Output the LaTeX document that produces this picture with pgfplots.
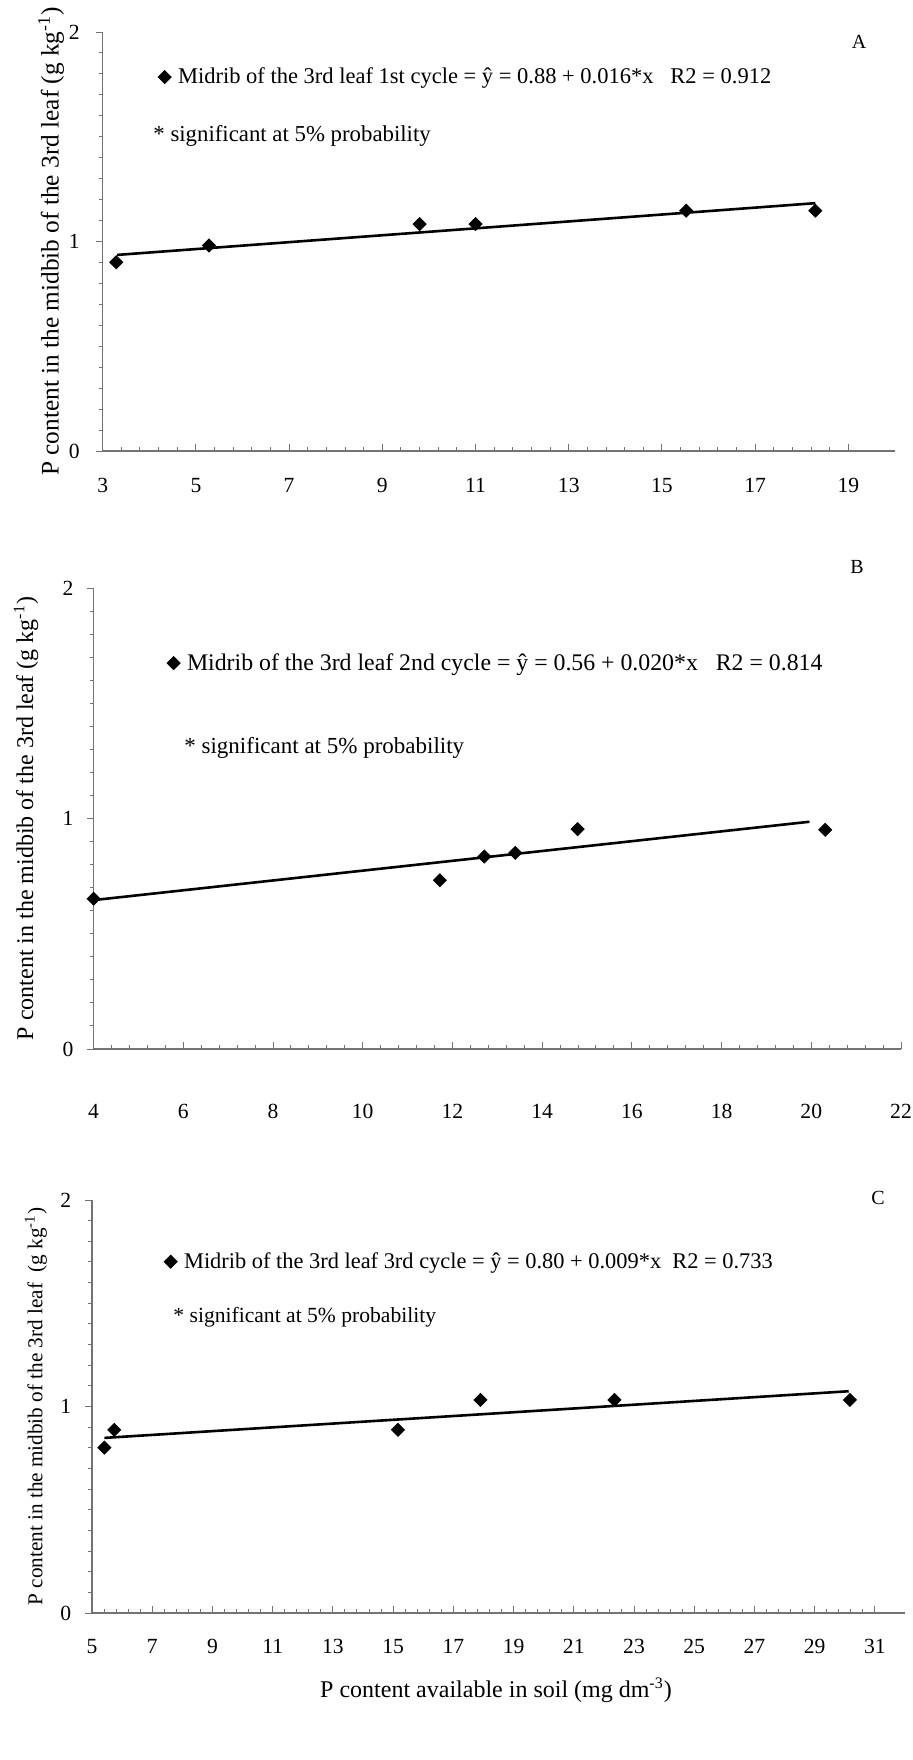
\documentclass[border=0pt]{standalone}
\usepackage{pgfplots}
\pgfplotsset{compat=1.18}
\usepackage{fontspec}
\setmainfont{Liberation Serif}
\newcommand{\fs}[1]{\fontsize{#1}{#1}\selectfont}
\pgfplotsset{
  panel/.style={
    scale only axis,
    clip=false,
    axis lines=left,
    axis line style={-, draw=black!55, line width=0.6pt},
    ymin=0, ymax=2,
    ytick={0,1,2},
    minor y tick num=9,
    minor x tick num=4,
    xtick align=inside,
    ytick align=outside,
    major tick length=3.5pt,
    minor tick length=2pt,
    tick style={draw=black!55, line width=0.5pt},
    /pgf/number format/assume math mode=true,
    ticklabel style={font=\fs{10.8}},
    legend style={draw=none, fill=none, anchor=west, inner sep=0pt,
      nodes={inner sep=1pt}},
  },
  dots/.style={only marks, mark=square*, mark size=2.3pt, black,
    mark options={rotate=45},
    legend image code/.code={\draw[##1] plot coordinates {(0pt,0pt)};\path (5.5pt,0pt);}},
  fit/.style={black, line width=1.3pt, forget plot},
}
\begin{document}
\begin{tikzpicture}
\useasboundingbox (0pt,0pt) rectangle (456.5pt,-880pt);

% ---------------- Panel A
\begin{scope}[shift={(51.35pt,-225.5pt)}]
\begin{axis}[panel,
  at={(0pt,0pt)}, anchor=south west,
  width=396.15pt, height=209.5pt,
  xmin=3, xmax=20, xtick={3,5,...,19},
  xticklabel style={yshift=-10.25pt},
  yticklabel style={xshift=-4.5pt},
  ylabel={P content in the midbib of the 3rd leaf (g kg\textsuperscript{-1})},
  ylabel style={at={(axis description cs:-0.065,0.5)}, anchor=center, font=\fs{12.65}},
  legend style={at={(axis description cs:0.0695,0.8926)}, font=\fs{11.25}},
]
\addplot[dots] coordinates {(3.29,0.901) (5.28,0.981) (9.80,1.083) (11.0,1.083) (15.52,1.147) (18.29,1.147)};
\addlegendentry{Midrib of the 3rd leaf 1st cycle = ŷ = 0.88 + 0.016*x\ \ \ R2 = 0.912}
\addplot[fit] coordinates {(3.31,0.936) (18.29,1.183)};
\end{axis}
\end{scope}
\node[anchor=west, font=\fs{11.4}, inner sep=0pt] at (76.5pt,-68pt) {* significant at 5\% probability};
\node[font=\fs{10}] at (429.5pt,-21pt) {A};

% ---------------- Panel B
\begin{scope}[shift={(46.8pt,-524.5pt)}]
\begin{axis}[panel,
  at={(0pt,0pt)}, anchor=south west,
  width=403.7pt, height=230.5pt,
  xmin=4, xmax=22, xtick={4,6,...,22},
  xticklabel style={yshift=-24pt},
  yticklabel style={xshift=-3pt},
  ylabel={P content in the midbib of the 3rd leaf (g kg\textsuperscript{-1})},
  ylabel style={at={(axis description cs:-0.0837,0.5)}, anchor=center, font=\fs{12}},
  legend style={at={(axis description cs:0.0906,0.837)}, font=\fs{11.9}},
]
\addplot[dots] coordinates {(4.0,0.652) (11.72,0.732) (12.71,0.835) (13.40,0.851) (14.79,0.954) (20.31,0.951)};
\addlegendentry{Midrib of the 3rd leaf 2nd cycle = ŷ = 0.56 + 0.020*x\ \ \ R2 = 0.814}
\addplot[fit] coordinates {(4.0,0.646) (19.96,0.986)};
\end{axis}
\end{scope}
\node[anchor=west, font=\fs{11.5}, inner sep=0pt] at (92pt,-374pt) {* significant at 5\% probability};
\node[font=\fs{10}] at (428.5pt,-283.5pt) {B};

% ---------------- Panel C
\begin{scope}[shift={(46pt,-806.5pt)}]
\begin{axis}[panel,
  at={(0pt,0pt)}, anchor=south west,
  width=406.5pt, height=206.5pt,
  xmin=5, xmax=32, xtick={5,7,...,31},
  xticklabel style={yshift=-9.75pt},
  yticklabel style={xshift=-3.4pt},
  ylabel={P content in the midbib of the 3rd leaf\ \ (g kg\textsuperscript{-1})},
  ylabel style={at={(axis description cs:-0.069,0.5)}, anchor=center, font=\fs{10.6}},
  legend style={at={(axis description cs:0.0883,0.8506)}, font=\fs{11.2}},
]
\addplot[dots] coordinates {(5.41,0.801) (5.74,0.887) (15.16,0.887) (17.90,1.032) (22.35,1.032) (30.17,1.032)};
\addlegendentry{Midrib of the 3rd leaf 3rd cycle = ŷ = 0.80 + 0.009*x\ \ R2 = 0.733}
\addplot[fit] coordinates {(5.41,0.848) (30.13,1.074)};
\end{axis}
\end{scope}
\node[anchor=west, font=\fs{10.8}, inner sep=0pt] at (86.5pt,-658.5pt) {* significant at 5\% probability};
\node[font=\fs{10}] at (439pt,-599pt) {C};
\node[font=\fs{12}] at (248pt,-845pt) {P content available in soil (mg dm\textsuperscript{-3})};
\end{tikzpicture}
\end{document}
